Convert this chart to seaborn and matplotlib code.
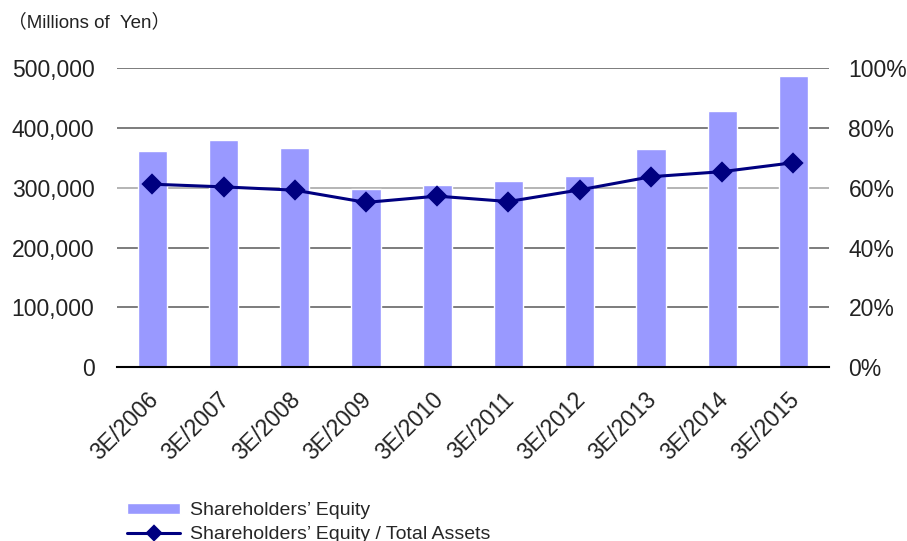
import matplotlib
matplotlib.use("Agg")
import matplotlib.pyplot as plt
import matplotlib.transforms as mtransforms
from matplotlib.ticker import FuncFormatter
import seaborn as sns
import pandas as pd

years = ["3E/2006", "3E/2007", "3E/2008", "3E/2009", "3E/2010",
         "3E/2011", "3E/2012", "3E/2013", "3E/2014", "3E/2015"]
equity = [361000, 380500, 366500, 297500, 304500, 311000, 319500, 365000, 428500, 487500]
ratio = [61.2, 60.3, 59.2, 55.1, 57.2, 55.4, 59.3, 63.7, 65.4, 68.4]
left_ticks = [0, 100000, 200000, 300000, 400000, 500000]
right_ticks = [0, 20, 40, 60, 80, 100]

df = pd.DataFrame({"year": years, "equity": equity, "ratio": ratio})

sns.set_style("white")
plt.rcParams['font.family'] = ['Liberation Sans', 'Noto Sans CJK JP', 'DejaVu Sans']

fig = plt.figure(figsize=(9.07, 5.41), dpi=100)
ax = fig.add_axes([116.7 / 907, 1 - 367 / 541, (829 - 116.7) / 907, (367 - 68.3) / 541])

sns.barplot(data=df, x="year", y="equity", ax=ax, color="#9999FF", saturation=1,
            width=0.41, label="Shareholders\u2019 Equity", zorder=2)
ax.set_ylim(0, 500000)
ax.set_xlim(-0.5, 9.5)
ax.set_yticks(left_ticks)
ax.yaxis.set_major_formatter(FuncFormatter(lambda v, p: f"{int(v):,}"))
ax.set_xlabel("")
ax.set_ylabel("")
ax.yaxis.grid(True, color="#666666", linewidth=1.2)
ax.set_axisbelow(True)
gl = ax.get_ygridlines()
gl[3].set_color("#A8A8A8")
gl[0].set_visible(False)
for s in ["left", "right", "top"]:
    ax.spines[s].set_visible(False)
ax.spines["bottom"].set_color("black")
ax.spines["bottom"].set_linewidth(1.5)

# category boundary ticks
ax.set_xticks([i + 0.5 for i in range(-1, 10)], minor=True)
ax.tick_params(axis="x", which="minor", direction="in", length=5, width=1, color="#666666")
ax.tick_params(axis="x", which="major", length=0, labelsize=16.5, pad=15)
ax.tick_params(axis="y", length=0, labelsize=16.5, pad=16, labelcolor="#222222")
offset = mtransforms.ScaledTranslation(-6 / 100, 0, fig.dpi_scale_trans)
for lbl in ax.get_xticklabels():
    lbl.set_rotation(45)
    lbl.set_ha("right")
    lbl.set_va("top")
    lbl.set_rotation_mode("anchor")
    lbl.set_color("#222222")
    lbl.set_transform(lbl.get_transform() + offset)

ax2 = ax.twinx()
sns.pointplot(data=df, x="year", y="ratio", ax=ax2, color="#000080", markers="D",
              markersize=9, linewidth=2.2, errorbar=None,
              label="Shareholders\u2019 Equity / Total Assets")
ax2.set_ylim(0, 100)
ax2.set_xlim(-0.5, 9.5)
ax2.set_yticks(right_ticks)
ax2.yaxis.set_major_formatter(FuncFormatter(lambda v, p: f"{int(v)}%"))
ax2.tick_params(axis="y", length=0, labelsize=16.5, pad=14, labelcolor="#222222")
ax2.set_ylabel("")
ax2.set_xlabel("")
for s in ["left", "right", "top", "bottom"]:
    ax2.spines[s].set_visible(False)
ax2.grid(False)

fig.text(8 / 907, 1 - 22 / 541, "\uff08Millions of  Yen\uff09", fontsize=13.5,
         va="center", ha="left", color="#222222")

h1, l1 = ax.get_legend_handles_labels()
h2, l2 = ax2.get_legend_handles_labels()
if ax.get_legend():
    ax.get_legend().remove()
if ax2.get_legend():
    ax2.get_legend().remove()
fig.legend(h1 + h2, l1 + l2, loc="upper left", bbox_to_anchor=(127 / 907, 1 - 502 / 541),
           frameon=False, fontsize=14, handlelength=2.73, handletextpad=0.52,
           labelspacing=0.38, borderpad=0, borderaxespad=0, handleheight=0.5,
           markerscale=0.8)

fig.savefig("out.png", dpi=100)
